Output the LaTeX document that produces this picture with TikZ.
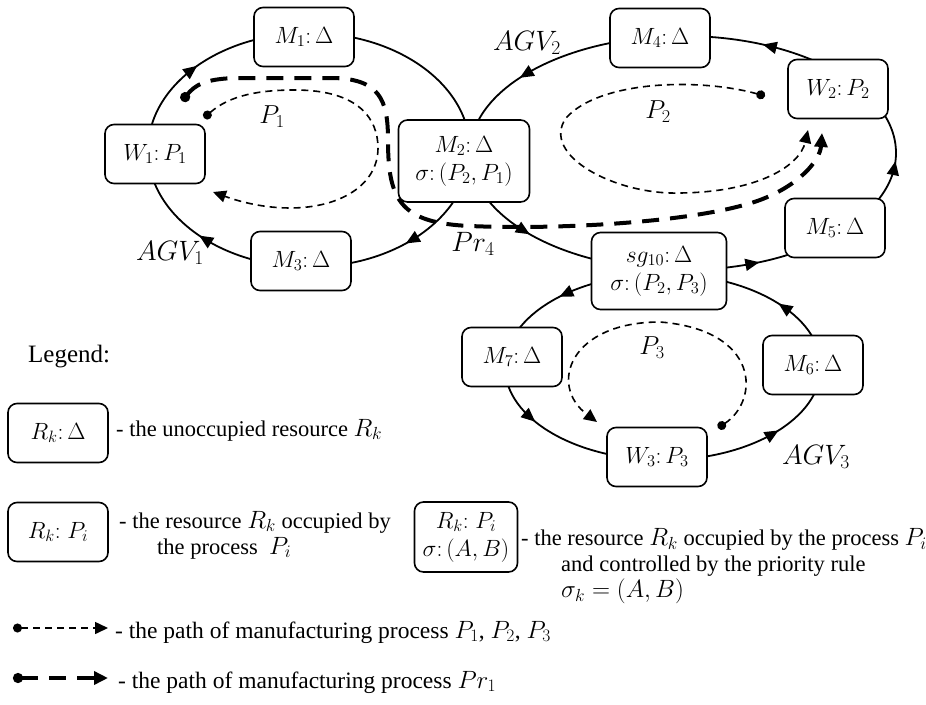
\RequirePackage{fix-cm}
\documentclass[tikz,border=0pt]{standalone}
\usepackage{fontspec}
\setmainfont{Liberation Serif}
\usetikzlibrary{arrows.meta,calc}
\tikzset{
  res/.style={draw, line width=1.6pt, rounded corners=9pt, fill=white,
    minimum width=100pt, minimum height=59pt, inner sep=2pt, align=center,
    font=\fontsize{23.5}{28}\selectfont},
  agv/.style={line width=1.8pt},
  agvtip/.style={line width=1.8pt, -{Triangle[length=14pt,width=12pt]}},
  pth/.style={line width=1.6pt, dash pattern=on 7pt off 5pt,
    {Circle[length=9pt]}-{Triangle[length=13pt,width=12pt]}},
  prpath/.style={line width=4pt, dash pattern=on 17pt off 11pt,
    {Circle[length=10pt]}-{Triangle[length=14pt,width=13pt]}},
  lbl/.style={font=\fontsize{28}{32}\selectfont, inner sep=0pt},
  plbl/.style={font=\fontsize{26}{30}\selectfont, inner sep=0pt},
  txt/.style={font=\fontsize{22.5}{26}\selectfont, anchor=west, align=left, inner sep=0pt},
  txtb/.style={txt, font=\fontsize{23.5}{27}\selectfont},
}
\newcommand\ellarr[5]{\draw[agvtip] ($(#1)+(#4:#2 and #3)$) -- ($(#1)+(#5:#2 and #3)$);}
\newcommand\tm[1]{{\fontsize{25}{26}\selectfont$#1$}}
\begin{document}
\begin{tikzpicture}[x=1pt,y=-1pt]
\useasboundingbox (0,0) rectangle (926,704);
% AGV routes
\coordinate (c1) at (309,150);
\coordinate (c2) at (683,153);
\coordinate (c3) at (663,367);
\draw[agv] (c1) ellipse [x radius=161, y radius=117];
\draw[agv] (c2) ellipse [x radius=213, y radius=117];
\draw[agv] (c3) ellipse [x radius=158, y radius=93];
\ellarr{c1}{161}{117}{49}{53}
\ellarr{c1}{161}{117}{129}{133}
\ellarr{c1}{161}{117}{222}{226}
\ellarr{c2}{213}{117}{140}{136}
\ellarr{c2}{213}{117}{73}{69}
\ellarr{c2}{213}{117}{8}{4}
\ellarr{c2}{213}{117}{-64}{-68}
\ellarr{c2}{213}{117}{-136}{-140}
\ellarr{c3}{158}{93}{-127}{-131}
\ellarr{c3}{158}{93}{148}{144}
\ellarr{c3}{158}{93}{47}{43}
\ellarr{c3}{158}{93}{-39}{-43}
% process paths
\coordinate (p1s) at (204,118);
\coordinate (p1e) at (213,192);
\draw[pth] (p1s) .. controls (230,95) and (260,90) .. (295,90)
  .. controls (360,90) and (378,120) .. (378,148)
  .. controls (378,185) and (340,208) .. (290,208)
  .. controls (260,208) and (235,200) .. (p1e);
\coordinate (p2s) at (765,96);
\coordinate (p2e) at (808,130);
\draw[pth] (p2s) .. controls (700,78) and (600,80) .. (566,118)
  .. controls (540,155) and (615,195) .. (680,193)
  .. controls (760,192) and (800,165) .. (p2e);
\coordinate (p3s) at (718,428);
\coordinate (p3e) at (597,422);
\draw[pth] (p3s) .. controls (760,400) and (760,330) .. (660,322)
  .. controls (570,322) and (548,385) .. (p3e);
\coordinate (r4s) at (182,101);
\coordinate (r4e) at (822,133);
\draw[prpath] (r4s) .. controls (195,85) and (205,79) .. (235,78) -- (330,78)
  .. controls (380,78) and (388,100) .. (388,140)
  .. controls (388,200) and (400,223) .. (470,226)
  .. controls (560,230) and (700,222) .. (760,200)
  .. controls (800,185) and (820,160) .. (r4e);
% resources
\node[res] (M1) at (304,37) {$M_1{:}\,\Delta$};
\node[res] (W1) at (155,154) {$W_1{:}\,P_1$};
\node[res] (M3) at (301,261) {$M_3{:}\,\Delta$};
\node[res, minimum width=131pt, minimum height=82pt] (M2) at (464,161) {$M_2{:}\,\Delta$\\$\sigma{:}\,(P_2,P_1)$};
\node[res] (M4) at (660,38) {$M_4{:}\,\Delta$};
\node[res] (W2) at (838,89) {$W_2{:}\,P_2$};
\node[res] (M5) at (835,228) {$M_5{:}\,\Delta$};
\node[res, minimum width=135pt, minimum height=77pt] (S10) at (659,271) {$sg_{10}{:}\,\Delta$\\$\sigma{:}\,(P_2,P_3)$};
\node[res] (M7) at (512,357) {$M_7{:}\,\Delta$};
\node[res] (M6) at (813,365) {$M_6{:}\,\Delta$};
\node[res] (W3) at (657,457) {$W_3{:}\,P_3$};
% labels
\node[lbl] (LA1) at (170,253) {$AGV_1$};
\node[lbl] (LA2) at (527,43) {$AGV_2$};
\node[lbl] (LA3) at (816,457) {$AGV_3$};
\node[plbl] (LP1) at (272,117) {$P_1$};
\node[plbl] (LP2) at (658,112) {$P_2$};
\node[plbl] (LP3) at (652,348) {$P_3$};
\node[lbl] (LPr) at (473,244) {$Pr_4$};
% legend
\node[txt, anchor=base west, font=\fontsize{25}{28}\selectfont] (leg) at (28,362) {Legend:};
\node[res] (R1) at (58,433) {$R_k{:}\,\Delta$};
\node[txt] (T1) at (116,430) {- the unoccupied resource \tm{R_k}};
\node[res] (R2) at (58,532) {$R_k{:}\;P_i$};
\node[txt] (T2) at (119,535) {- the resource \tm{R_k} occupied by\\\hspace*{38pt}the process\ \ \tm{P_i}};
\node[res, minimum width=103pt, minimum height=70pt] (R3) at (466,537) {$R_k{:}\;P_i$\\$\sigma{:}\,(A,B)$};
\node[txt] (T3) at (521,566) {- the resource \tm{R_k} occupied by the process \tm{P_i}\\\hspace*{40pt}and controlled by the priority rule\\\hspace*{40pt}\tm{\sigma_k=(A,B)}};
\coordinate (la1) at (13,628);
\coordinate (lb1) at (108,628);
\draw[pth] (la1) -- (lb1);
\node[txtb] (T4) at (115,632) {- the path of manufacturing process \tm{P_1}, \tm{P_2}, \tm{P_3}};
\coordinate (la2) at (13,678);
\coordinate (lb2) at (108,678);
\draw[prpath] (la2) -- (lb2);
\node[txtb] (T5) at (118,682) {- the path of manufacturing process \tm{Pr_1}};
\end{tikzpicture}
\end{document}
